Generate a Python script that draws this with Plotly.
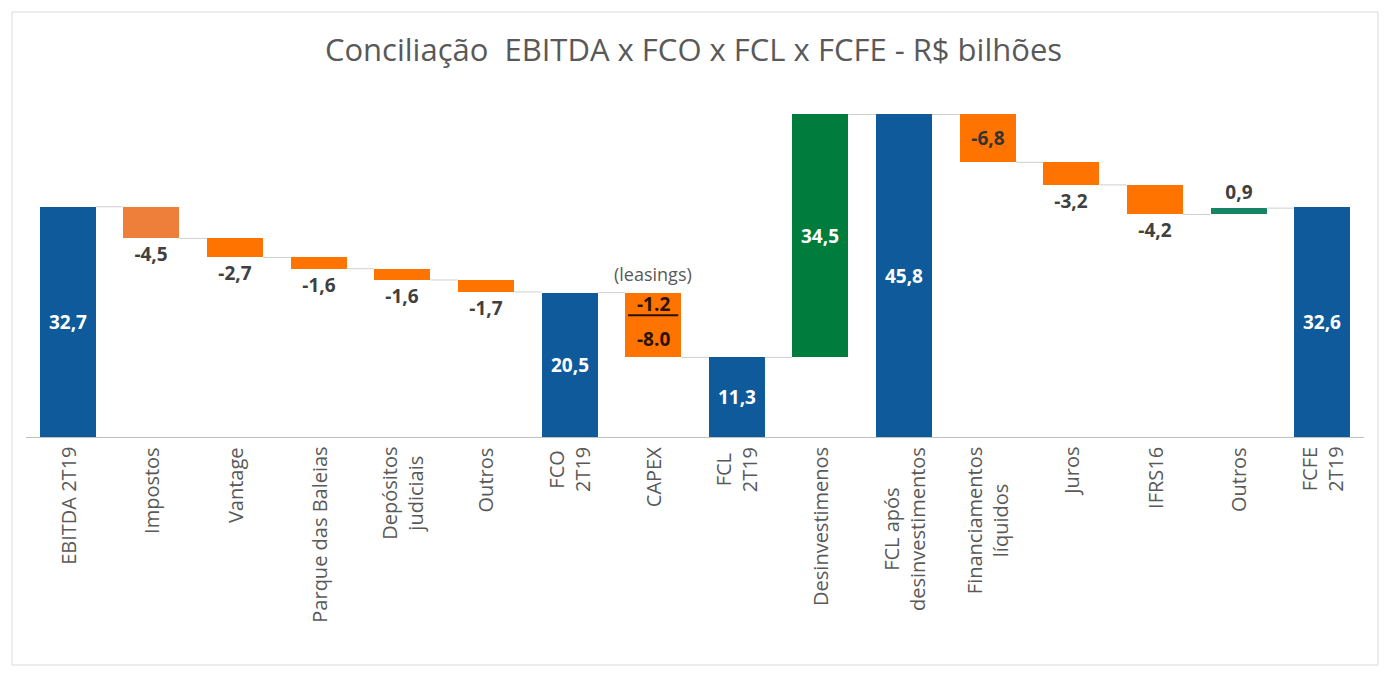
"""
Waterfall: Conciliação EBITDA x FCO x FCL x FCFE (R$ bilhões), built from bars with a base.
"""

import plotly.graph_objects as go

CATEGORIES = [
    "EBITDA 2T19", "Impostos", "Vantage", "Parque das Baleias", "Depósitos<br>judiciais",
    "Outros", "FCO<br>2T19", "CAPEX", "FCL<br>2T19", "Desinvestimenos",
    "FCL após<br>desinvestimentos", "Financiamentos<br>líquidos", "Juros", "IFRS16",
    "Outros", "FCFE<br>2T19",
]
VALUES = [32.7, -4.5, -2.7, -1.6, -1.6, -1.7, 20.5, -9.2, 11.3, 34.5, 45.8, -6.8, -3.2, -4.2, 0.9, 32.6]
MEASURES = ["total", "relative", "relative", "relative", "relative", "relative", "total",
            "relative", "total", "relative", "total", "relative", "relative", "relative",
            "relative", "total"]
CAPEX_SPLIT = [-1.2, -8.0]  # leasings, other capex

BLUE = "#0F5A9B"
ORANGE = "#FF7300"
ORANGE_LIGHT = "#EE7F3A"
GREEN = "#007D3C"
TEAL = "#178564"
GREY_TXT = "#595959"
DARK_TXT = "#333333"
CAPEX_TXT = "#2a1200"
FONT = "Open Sans"

BAR_COLORS = [BLUE, ORANGE_LIGHT, ORANGE, ORANGE, ORANGE, ORANGE, BLUE, ORANGE, BLUE,
              GREEN, BLUE, ORANGE, ORANGE, ORANGE, TEAL, BLUE]

# page body adds 8px margin, so the figure is a bit smaller than the window
W, H = 1371, 661
ML, MR, MT, MB = 18, 15, 91, 232
BAR_W = 0.67


def fmt(v):
    return f"{v:.1f}".replace(".", ",")


# bases / heights from running level
bases, heights, ends = [], [], []
level = 0.0
for v, m in zip(VALUES, MEASURES):
    if m == "total":
        bases.append(0.0)
        level = v
    else:
        bases.append(level)
        level = level + v
    heights.append(v)
    ends.append(level)

texts, positions, txt_colors = [], [], []
for i, (v, m) in enumerate(zip(VALUES, MEASURES)):
    if CATEGORIES[i] == "CAPEX":
        texts.append("")
        positions.append("none")
        txt_colors.append(DARK_TXT)
    elif m == "total" or v > 5:
        texts.append(fmt(v))
        positions.append("inside")
        txt_colors.append("white")
    elif v < -5:
        texts.append(fmt(v))
        positions.append("inside")
        txt_colors.append(DARK_TXT)
    else:
        texts.append(fmt(v))
        positions.append("outside")
        txt_colors.append("#404040")

x = list(range(len(CATEGORIES)))

fig = go.Figure()

# connector lines between bars
cx, cy = [], []
for i in range(len(x) - 1):
    cx += [x[i] + BAR_W / 2, x[i + 1] - BAR_W / 2, None]
    cy += [ends[i], ends[i], None]
fig.add_trace(go.Scatter(x=cx, y=cy, mode="lines", line=dict(color="#D0D0D0", width=1),
                         hoverinfo="skip", showlegend=False))

fig.add_trace(go.Bar(
    x=x, y=heights, base=bases, width=BAR_W,
    marker=dict(color=BAR_COLORS, line=dict(width=0)),
    text=texts, textposition=positions, insidetextanchor="middle",
    textfont=dict(color=txt_colors, size=19, family=FONT, weight="bold"),
    constraintext="none", cliponaxis=False, showlegend=False,
))

# CAPEX split annotations
ci = CATEGORIES.index("CAPEX")
top = bases[ci]
capex_total = sum(CAPEX_SPLIT)
fig.add_annotation(x=ci, y=top, text="(leasings)", showarrow=False, yanchor="bottom", yshift=5,
                   font=dict(size=18, color=GREY_TXT, family=FONT))
fig.add_annotation(x=ci, y=top + CAPEX_SPLIT[0] * 1.35, text=f"{CAPEX_SPLIT[0]:.1f}",
                   showarrow=False, yanchor="middle",
                   font=dict(size=19, color=CAPEX_TXT, family=FONT, weight="bold"))
fig.add_annotation(x=ci, y=top + capex_total * 0.72, text=f"{CAPEX_SPLIT[1]:.1f}",
                   showarrow=False, yanchor="middle",
                   font=dict(size=19, color=CAPEX_TXT, family=FONT, weight="bold"))
sep_y = top + capex_total * 0.35
fig.add_shape(type="line", x0=ci - 0.3, x1=ci + 0.3, y0=sep_y, y1=sep_y,
              line=dict(color=CAPEX_TXT, width=2))

# category labels, rotated, lines centred on each other
for i, name in enumerate(CATEGORIES):
    fig.add_annotation(x=i, y=0, text=name, textangle=-90, showarrow=False,
                       xanchor="center", yanchor="top", yshift=-8, align="center",
                       font=dict(size=20, color=GREY_TXT, family=FONT))

# outer frame of the whole picture
pw, ph = W - ML - MR, H - MT - MB
fig.add_shape(type="rect", xref="paper", yref="paper",
              x0=(4 - ML) / pw, x1=(1370 - ML) / pw,
              y0=(H - MB - 657) / ph, y1=(H - MB - 4) / ph,
              line=dict(color="#D9D9D9", width=1), layer="below")

fig.update_layout(
    width=W, height=H,
    margin=dict(l=ML, r=MR, t=MT, b=MB),
    plot_bgcolor="white", paper_bgcolor="white",
    title=dict(text="Conciliação  EBITDA x FCO x FCL x FCFE - R$ bilhões",
               x=0.5, xanchor="center", y=1 - 42 / H, yanchor="middle",
               font=dict(size=31, color=GREY_TXT, family=FONT)),
    font=dict(family=FONT, color=GREY_TXT),
    bargap=0,
    xaxis=dict(
        tickmode="array", tickvals=x, ticktext=[""] * len(x),
        range=[-0.5, len(x) - 0.5], showgrid=False, zeroline=False,
        showline=True, linecolor="#BFBFBF", linewidth=1, ticks="",
    ),
    yaxis=dict(range=[0, 48], visible=False, showgrid=False, zeroline=False),
)

fig.write_html("out.html")
